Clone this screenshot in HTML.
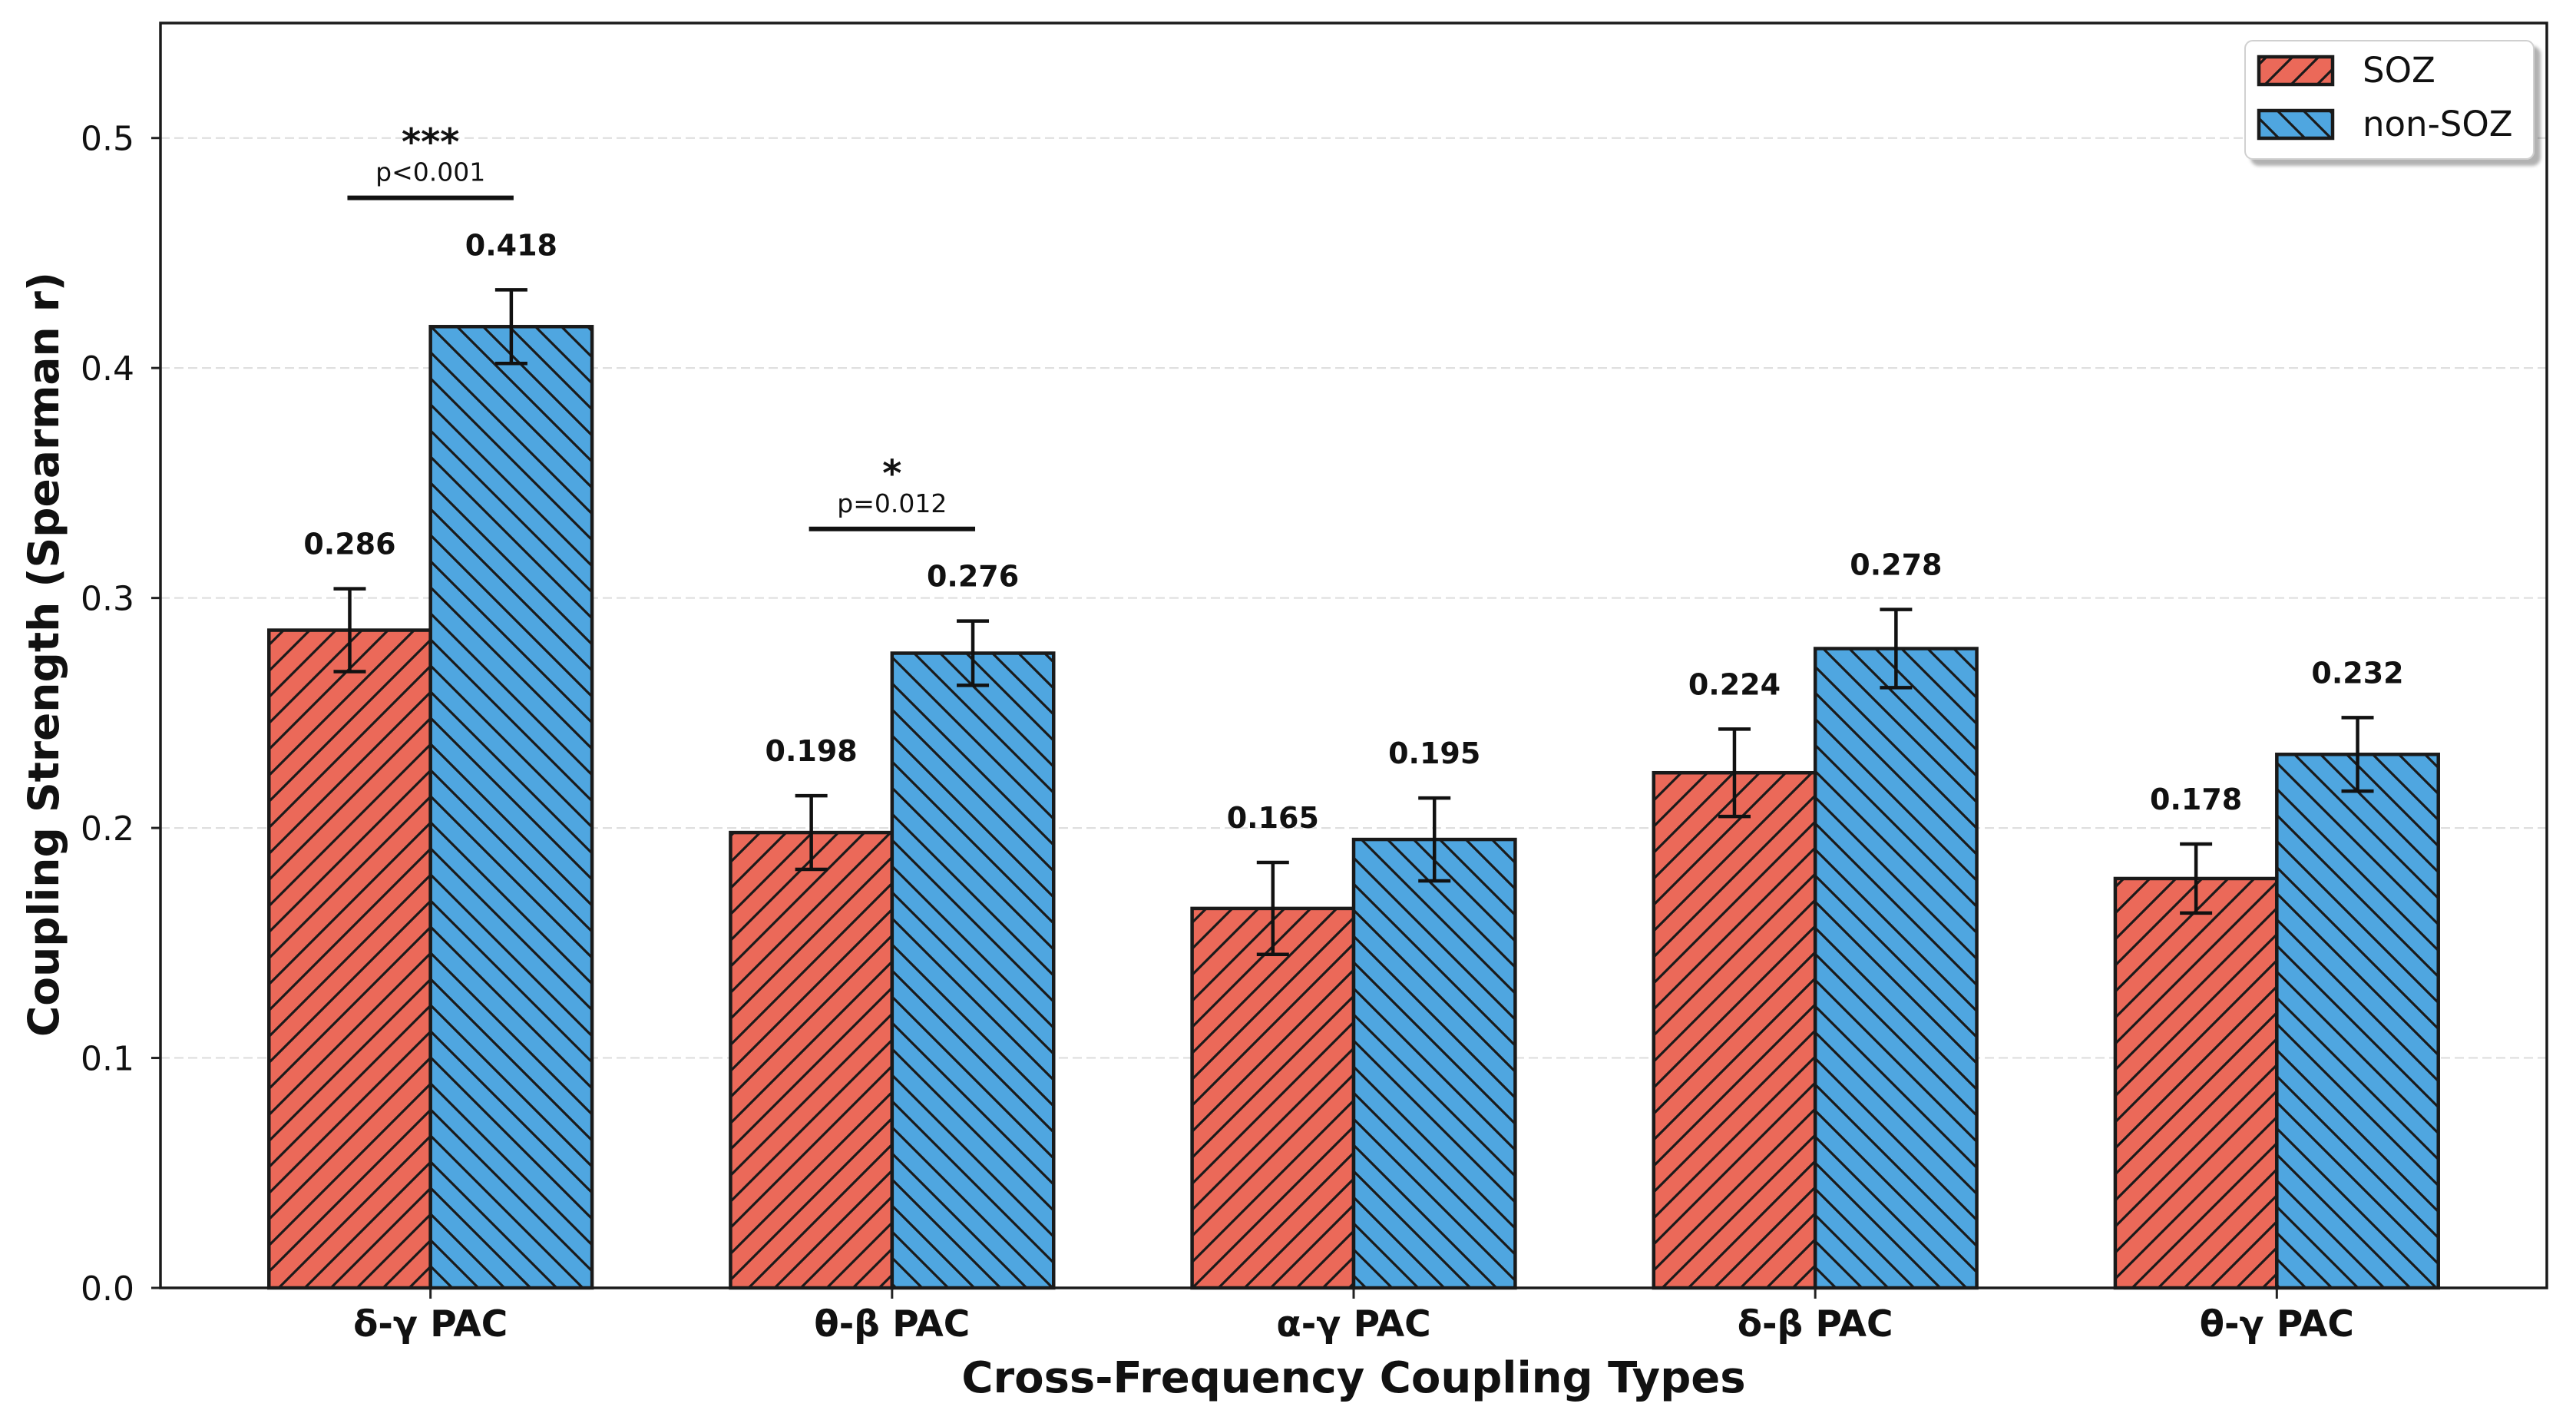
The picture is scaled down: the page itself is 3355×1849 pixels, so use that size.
<!DOCTYPE html>
<html><head><meta charset="utf-8"><style>
html,body{margin:0;padding:0;background:#fff;}
svg{display:block;font-family:"DejaVu Sans","Liberation Sans",sans-serif;}
body{position:relative;width:3355px;height:1849px;overflow:hidden;}
</style></head><body>
<svg id="chart" width="3355" height="1849" viewBox="0 0 3355 1849" xmlns="http://www.w3.org/2000/svg">
<defs>
<pattern id="hatchSoz" patternUnits="userSpaceOnUse" width="34" height="34">
<rect width="34" height="34" fill="#EB6959"/>
<path d="M-8.5,8.5 L8.5,-8.5 M0,34 L34,0 M25.5,42.5 L42.5,25.5" stroke="#1a1a1a" stroke-width="3.2"/>
</pattern>
<pattern id="hatchNon" patternUnits="userSpaceOnUse" width="34" height="34">
<rect width="34" height="34" fill="#4FA6E0"/>
<path d="M-8.5,25.5 L8.5,42.5 M0,0 L34,34 M25.5,-8.5 L42.5,8.5" stroke="#1a1a1a" stroke-width="3.2"/>
</pattern>
<filter id="shadow" x="-10%" y="-10%" width="130%" height="130%"><feDropShadow dx="8" dy="8" stdDeviation="2" flood-color="#000" flood-opacity="0.3"/></filter>
</defs>
<g id="grid"></g>
<g id="bars"></g>
<g id="axes"></g>
<g id="annot"></g>
</svg>
<script>
const categories = ["δ-γ PAC","θ-β PAC","α-γ PAC","δ-β PAC","θ-γ PAC"];
const sozValues = [0.286,0.198,0.165,0.224,0.178];
const nonSozValues = [0.418,0.276,0.195,0.278,0.232];
const sozErrors = [0.018,0.016,0.020,0.019,0.015];
const nonSozErrors = [0.016,0.014,0.018,0.017,0.016];
const yTicks = [0.0,0.1,0.2,0.3,0.4,0.5];
const yTickLabels = ["0.0","0.1","0.2","0.3","0.4","0.5"];
const sigGroups = [0,1];
const sigStars = ["***","*"];
const sigPLabels = ["p<0.001","p=0.012"];

const NS="http://www.w3.org/2000/svg";
const L=209, R=3317, T=30, B=1677;
const yMax=0.55, xMin=-0.585, xMax=4.585;
const y=v=>B-(v/yMax)*(B-T);
const x=v=>L+(v-xMin)/(xMax-xMin)*(R-L);
const bw=0.35;
function mk(tag,attrs,parent,text){const e=document.createElementNS(NS,tag);for(const k in attrs)e.setAttribute(k,attrs[k]);if(text!==undefined)e.textContent=text;parent.appendChild(e);return e;}
const grid=document.getElementById('grid'),bars=document.getElementById('bars'),axes=document.getElementById('axes'),annot=document.getElementById('annot');

yTicks.forEach((t,i)=>{
  if(t>0){const g=mk('line',{x1:L,x2:R,y1:y(t),y2:y(t),stroke:'#dcdcdc','stroke-width':2,'stroke-dasharray':'12,6'},grid);
  
  }
  const tk=mk('line',{x1:L-12,x2:L,y1:y(t),y2:y(t),stroke:'#222','stroke-width':3},axes);
  
  
  const lb=mk('text',{x:L-34,y:y(t)+16,'text-anchor':'end','font-size':44,fill:'#111'},axes,yTickLabels[i]);
  
  
});

function bar(cx,v,e,fill,name){
  const x0=x(cx-bw/2),x1=x(cx+bw/2);
  const r=mk('rect',{x:x0,y:y(v),width:x1-x0,height:B-y(v),fill:fill,stroke:'#1a1a1a','stroke-width':4.5},bars);
  
  
  const xc=x(cx);
  const eb=mk('path',{d:`M${xc},${y(v-e)}V${y(v+e)}M${xc-21},${y(v-e)}H${xc+21}M${xc-21},${y(v+e)}H${xc+21}`,stroke:'#111','stroke-width':4.5,fill:'none'},bars);
  
  
  const t=mk('text',{x:xc,y:y(v+e)-45,'text-anchor':'middle','font-size':38,'font-weight':'bold',fill:'#111'},annot,v.toFixed(3));
  
  
}
categories.forEach((c,i)=>{
  bar(i-bw/2,sozValues[i],sozErrors[i],'url(#hatchSoz)','bar-soz-'+i);
  bar(i+bw/2,nonSozValues[i],nonSozErrors[i],'url(#hatchNon)','bar-non-soz-'+i);
  const tk=mk('line',{x1:x(i),x2:x(i),y1:B,y2:B+14,stroke:'#222','stroke-width':3},axes);
  
  
  const lb=mk('text',{x:x(i),y:B+63,'text-anchor':'middle','font-size':47,'font-weight':'bold',fill:'#111'},axes,c);
  
  
});

const frame=mk('rect',{x:L,y:T,width:R-L,height:B-T,fill:'none',stroke:'#1a1a1a','stroke-width':3.5},axes);



sigGroups.forEach((g,k)=>{
  const top=Math.max(sozValues[g]+sozErrors[g],nonSozValues[g]+nonSozErrors[g])+0.04;
  const ln=mk('line',{x1:x(g-0.18),x2:x(g+0.18),y1:y(top),y2:y(top),stroke:'#111','stroke-width':6},annot);
  
  
  const p=mk('text',{x:x(g),y:y(top)-22,'text-anchor':'middle','font-size':33,fill:'#111'},annot,sigPLabels[k]);
  
  
  const s=mk('text',{x:x(g),y:y(top)-56,'text-anchor':'middle','font-size':48,'font-weight':'bold',fill:'#111'},annot,sigStars[k]);
  
  
});
</script>
<svg style="position:absolute;left:0;top:0" width="3355" height="1849">
<text transform="translate(76,852) rotate(-90)" text-anchor="middle" font-family="DejaVu Sans, Liberation Sans, sans-serif" font-size="55" font-weight="bold" fill="#111">Coupling Strength (Spearman r)</text>
<text x="1763" y="1813" text-anchor="middle" font-family="DejaVu Sans, Liberation Sans, sans-serif" font-size="56" font-weight="bold" fill="#111">Cross-Frequency Coupling Types</text>
<g>
<rect x="2924" y="53" width="376" height="154" rx="10" fill="#fff" stroke="#d0d0d0" stroke-width="2" filter="url(#shadow)"/>
<rect x="2942" y="74" width="96" height="36" fill="url(#hatchSoz)" stroke="#1a1a1a" stroke-width="4.5"/>
<text x="3077" y="107" font-family="DejaVu Sans, Liberation Sans, sans-serif" font-size="45" fill="#111">SOZ</text>
<rect x="2942" y="144" width="96" height="36" fill="url(#hatchNon)" stroke="#1a1a1a" stroke-width="4.5"/>
<text x="3077" y="177" font-family="DejaVu Sans, Liberation Sans, sans-serif" font-size="45" fill="#111">non-SOZ</text>
</g>
</svg>
</body></html>
